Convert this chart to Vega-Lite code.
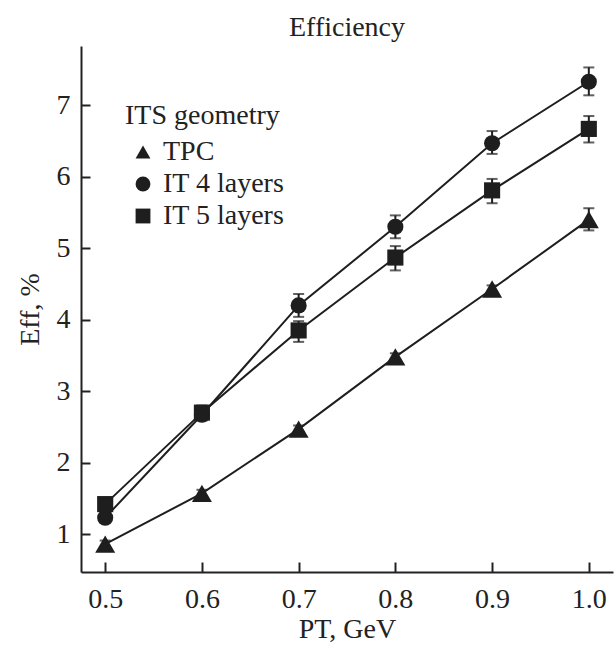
{
  "$schema": "https://vega.github.io/schema/vega-lite/v6.json",
  "autosize": {"type": "none"},
  "width": 532,
  "height": 526,
  "padding": {"left": 81, "top": 46, "right": 3, "bottom": 74},
  "background": "white",
  "config": {
    "font": "Liberation Serif",
    "view": {"stroke": null},
    "axis": {
      "domainColor": "#222",
      "domainWidth": 2,
      "tickColor": "#222",
      "tickWidth": 2,
      "grid": false,
      "labelFont": "Liberation Serif",
      "labelFontSize": 28,
      "labelColor": "#222",
      "titleFont": "Liberation Serif",
      "titleFontSize": 28,
      "titleFontWeight": "normal",
      "titleColor": "#222"
    },
    "legend": {
      "labelFont": "Liberation Serif",
      "titleFont": "Liberation Serif"
    }
  },
  "title": {
    "text": "Efficiency",
    "font": "Liberation Serif",
    "fontSize": 28,
    "fontWeight": "normal",
    "color": "#222",
    "anchor": "middle",
    "offset": 4
  },
  "data": {
    "values": [
      {"series": "TPC", "pt": 0.5, "eff": 0.86, "lo": 0.81, "hi": 0.91},
      {"series": "TPC", "pt": 0.6, "eff": 1.57, "lo": 1.52, "hi": 1.62},
      {"series": "TPC", "pt": 0.7, "eff": 2.47, "lo": 2.42, "hi": 2.52},
      {"series": "TPC", "pt": 0.8, "eff": 3.48, "lo": 3.43, "hi": 3.53},
      {"series": "TPC", "pt": 0.9, "eff": 4.43, "lo": 4.38, "hi": 4.48},
      {"series": "TPC", "pt": 1.0, "eff": 5.40, "lo": 5.25, "hi": 5.56},
      {"series": "IT 4 layers", "pt": 0.5, "eff": 1.23, "lo": 1.18, "hi": 1.28},
      {"series": "IT 4 layers", "pt": 0.6, "eff": 2.67, "lo": 2.59, "hi": 2.75},
      {"series": "IT 4 layers", "pt": 0.7, "eff": 4.20, "lo": 4.04, "hi": 4.36},
      {"series": "IT 4 layers", "pt": 0.8, "eff": 5.30, "lo": 5.14, "hi": 5.46},
      {"series": "IT 4 layers", "pt": 0.9, "eff": 6.47, "lo": 6.32, "hi": 6.64},
      {"series": "IT 4 layers", "pt": 1.0, "eff": 7.33, "lo": 7.14, "hi": 7.53},
      {"series": "IT 5 layers", "pt": 0.5, "eff": 1.42, "lo": 1.37, "hi": 1.47},
      {"series": "IT 5 layers", "pt": 0.6, "eff": 2.70, "lo": 2.60, "hi": 2.80},
      {"series": "IT 5 layers", "pt": 0.7, "eff": 3.85, "lo": 3.69, "hi": 3.98},
      {"series": "IT 5 layers", "pt": 0.8, "eff": 4.87, "lo": 4.69, "hi": 5.03},
      {"series": "IT 5 layers", "pt": 0.9, "eff": 5.81, "lo": 5.63, "hi": 5.97},
      {"series": "IT 5 layers", "pt": 1.0, "eff": 6.67, "lo": 6.48, "hi": 6.85}
    ]
  },
  "encoding": {
    "x": {
      "field": "pt",
      "type": "quantitative",
      "scale": {"domain": [0.475, 1.025], "nice": false, "zero": false},
      "axis": {
        "values": [0.5, 0.6, 0.7, 0.8, 0.9, 1.0],
        "format": ".1f",
        "tickSize": -10,
        "labelPadding": 23,
        "title": "PT, GeV",
        "titlePadding": 2
      }
    },
    "y": {
      "field": "eff",
      "type": "quantitative",
      "scale": {"domain": [0.47, 7.83], "nice": false, "zero": false},
      "axis": {
        "values": [1, 2, 3, 4, 5, 6, 7],
        "tickSize": -9,
        "labelPadding": 20,
        "title": "Eff, %",
        "titlePadding": 12
      }
    }
  },
  "layer": [
    {
      "mark": {"type": "line", "color": "#1e1e1e", "strokeWidth": 2},
      "encoding": {"detail": {"field": "series"}}
    },
    {
      "mark": {"type": "rule", "color": "#1e1e1e", "strokeWidth": 2},
      "encoding": {"y": {"field": "lo", "type": "quantitative"}, "y2": {"field": "hi"}}
    },
    {
      "mark": {"type": "tick", "orient": "horizontal", "color": "#1e1e1e", "size": 11, "thickness": 2},
      "encoding": {"y": {"field": "hi", "type": "quantitative"}}
    },
    {
      "mark": {"type": "tick", "orient": "horizontal", "color": "#1e1e1e", "size": 11, "thickness": 2},
      "encoding": {"y": {"field": "lo", "type": "quantitative"}}
    },
    {
      "mark": {"type": "point", "filled": true, "opacity": 1, "color": "#1e1e1e", "size": 260},
      "encoding": {
        "shape": {
          "field": "series",
          "type": "nominal",
          "scale": {"domain": ["TPC", "IT 4 layers", "IT 5 layers"], "range": ["triangle-up", "circle", "square"]},
          "legend": {
            "title": "ITS geometry",
            "orient": "none",
            "legendX": 44,
            "legendY": 56,
            "padding": 0,
            "titleFontSize": 28,
            "titleFontWeight": "normal",
            "titleColor": "#222",
            "titlePadding": 8,
            "labelFontSize": 28,
            "labelColor": "#222",
            "labelOffset": 6,
            "symbolSize": 220,
            "symbolFillColor": "#1e1e1e",
            "symbolStrokeColor": "#1e1e1e",
            "symbolOffset": 4,
            "rowPadding": 4,
            "encode": {
              "symbols": {
                "update": {
                  "size": {"signal": "datum.value === 'TPC' ? 330 : datum.value === 'IT 4 layers' ? 230 : 190"}
                }
              }
            }
          }
        }
      }
    },
    {
      "transform": [{"filter": "datum.series === 'TPC'"}],
      "mark": {"type": "point", "filled": true, "opacity": 1, "color": "#1e1e1e", "size": 400, "shape": "triangle-up"}
    }
  ]
}
